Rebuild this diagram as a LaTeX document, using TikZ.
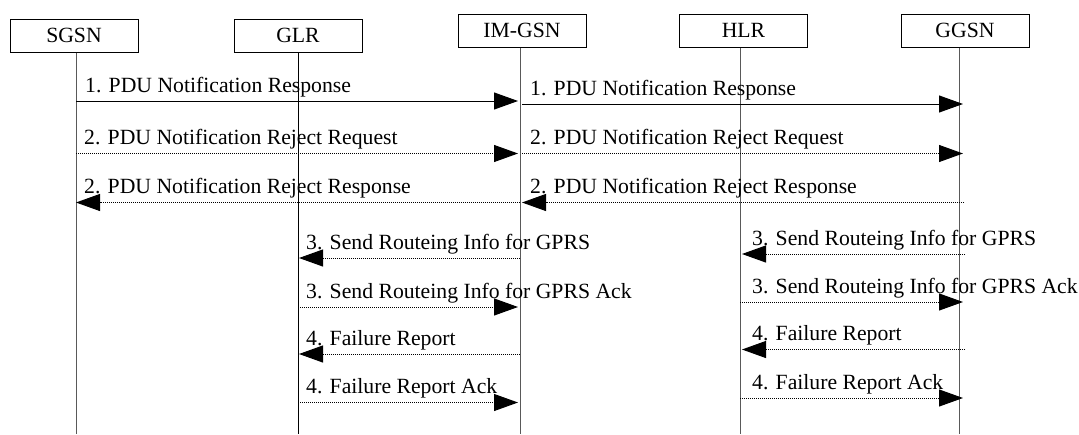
\documentclass[tikz,border=0pt]{standalone}
\usepackage{fontspec}
\setmainfont{Liberation Serif}
\usetikzlibrary{arrows.meta}
\begin{document}
\begin{tikzpicture}[x=1pt,y=-1pt,
  ent/.style={draw, line width=1pt, minimum width=128pt, minimum height=33pt, inner sep=0pt, font=\fontsize{21.7}{26}\selectfont},
  lifeline/.style={line width=1pt, draw=black!65},
  msgsolid/.style={line width=1pt, -{Triangle[length=24pt,width=17pt]}},
  msgdot/.style={msgsolid, dash pattern=on 1pt off 1pt},
  lbl/.style={anchor=base west, inner sep=0pt, font=\fontsize{21.7}{26}\selectfont}]
\useasboundingbox (0,0) rectangle (1079,434);
% entities
\node[ent] (sgsn) at (74,35.5) {SGSN};
\node[ent] (glr) at (298,35.5) {GLR};
\node[ent] (imgsn) at (522,30.5) {IM-GSN};
\node[ent] (hlr) at (743.5,30.5) {HLR};
\node[ent] (ggsn) at (965,30.5) {GGSN};
% lifelines
\coordinate (sgsnB) at (76,434);
\coordinate (glrB) at (298,434);
\coordinate (imgsnB) at (520,434);
\coordinate (hlrB) at (740,434);
\coordinate (ggsnB) at (959,434);
\draw[lifeline] (sgsnB |- sgsn.south) -- (sgsnB);
\draw[lifeline, draw=black] (glrB |- glr.south) -- (glrB);
\draw[lifeline] (imgsnB |- imgsn.south) -- (imgsnB);
\draw[lifeline] (hlrB |- hlr.south) -- (hlrB);
\draw[lifeline] (ggsnB |- ggsn.south) -- (ggsnB);
% 1
\coordinate (a1s) at (76,101); \coordinate (a1e) at (518,101);
\coordinate (b1s) at (522,104); \coordinate (b1e) at (963,104);
\draw[msgsolid] (a1s) -- (a1e);
\draw[msgsolid] (b1s) -- (b1e);
\node[lbl] (la1) at (85,92) {1. PDU Notification Response};
\node[lbl] (lb1) at (530,95) {1. PDU Notification Response};
% 2 request
\coordinate (a2s) at (76,153.5); \coordinate (a2e) at (518,153.5);
\coordinate (b2s) at (522,153.5); \coordinate (b2e) at (963,153.5);
\draw[msgdot] (a2s) -- (a2e);
\draw[msgdot] (b2s) -- (b2e);
\node[lbl] (la2) at (84,144) {2. PDU Notification Reject Request};
\node[lbl] (lb2) at (530,144) {2. PDU Notification Reject Request};
% 2 response
\coordinate (a3s) at (520,202.5); \coordinate (a3e) at (76,202.5);
\coordinate (b3s) at (964,202.5); \coordinate (b3e) at (522,202.5);
\draw[msgdot] (a3s) -- (a3e);
\draw[msgdot] (b3s) -- (b3e);
\node[lbl] (la3) at (84,193) {2. PDU Notification Reject Response};
\node[lbl] (lb3) at (530,193) {2. PDU Notification Reject Response};
% 3 send routeing info
\coordinate (a4s) at (520,258); \coordinate (a4e) at (299,258);
\coordinate (b4s) at (965,254); \coordinate (b4e) at (742,254);
\draw[msgdot] (a4s) -- (a4e);
\draw[msgdot] (b4s) -- (b4e);
\node[lbl] (la4) at (306,249) {3. Send Routeing Info for GPRS};
\node[lbl] (lb4) at (752,245) {3. Send Routeing Info for GPRS};
% 3 ack
\coordinate (a5s) at (298,307); \coordinate (a5e) at (518,307);
\coordinate (b5s) at (740,302); \coordinate (b5e) at (963,302);
\draw[msgdot] (a5s) -- (a5e);
\draw[msgdot] (b5s) -- (b5e);
\node[lbl] (la5) at (306,298) {3. Send Routeing Info for GPRS Ack};
\node[lbl] (lb5) at (752,293) {3. Send Routeing Info for GPRS Ack};
% 4 failure report
\coordinate (a6s) at (520,354); \coordinate (a6e) at (299,354);
\coordinate (b6s) at (965,349.5); \coordinate (b6e) at (742,349.5);
\draw[msgdot] (a6s) -- (a6e);
\draw[msgdot] (b6s) -- (b6e);
\node[lbl] (la6) at (306,345) {4. Failure Report};
\node[lbl] (lb6) at (752,340.5) {4. Failure Report};
% 4 failure report ack
\coordinate (a7s) at (298,402.5); \coordinate (a7e) at (518,402.5);
\coordinate (b7s) at (740,398); \coordinate (b7e) at (963,398);
\draw[msgdot] (a7s) -- (a7e);
\draw[msgdot] (b7s) -- (b7e);
\node[lbl] (la7) at (306,393.5) {4. Failure Report Ack};
\node[lbl] (lb7) at (752,389) {4. Failure Report Ack};
\end{tikzpicture}
\end{document}
